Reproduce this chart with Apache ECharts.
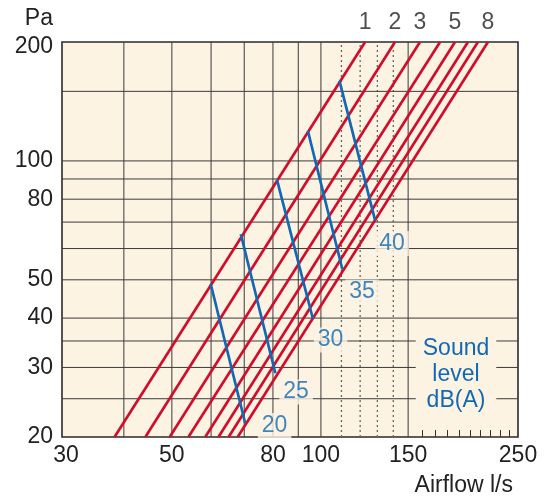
<!DOCTYPE html>
<html><head><meta charset="utf-8">
<script src="https://cdn.jsdelivr.net/npm/echarts@6/dist/echarts.min.js"></script>
<style>html,body{margin:0;padding:0;background:#fff}#c{width:546px;height:499px}</style>
</head><body><div id="c"></div>
<script>
// ---- data ----
const lineIds = [1, 2, 3, 4, 5, 6, 7, 8];
const labeledLines = [1, 2, 3, 5, 8];
const airflowAt20Pa  = [38.3, 44.2, 49.5, 54.0, 58.4, 62.1, 65.1, 67.9];
const airflowAt200Pa = [122.8, 141.1, 158.5, 174.0, 186.5, 198.1, 207.5, 217.4];

const soundLevels = [20, 25, 30, 35, 40];
const soundStartAirflow  = [59.9, 68.9, 81.5, 94.1, 109.0];
const soundStartPressure = [48.8, 65.2, 89.7, 119.1, 159.4];
const soundEndAirflow    = [70.3, 80.9, 96.3, 110.5, 128.6];
const soundEndPressure   = [21.7, 29.0, 39.9, 53.1, 70.8];
const soundLabelAirflow  = [80.6, 89.1, 104.6, 121.1, 139.2];
const soundLabelPressure = [21.4, 26.0, 35.2, 46.6, 61.8];

const xTickLabels = [30, 50, 80, 100, 150, 250];
const yTickLabels = [20, 30, 40, 50, 80, 100, 200];
const xGridSolid  = [40, 50, 60, 70, 80, 90, 100, 150];
const xGridDotted = [110, 120, 130, 140];
const yGrid       = [25, 30, 35, 40, 50, 60, 70, 80, 90, 100, 150];
const xMinorTicks = [160, 170, 180, 190, 200, 210, 220, 230, 240];
const xRange = [30, 250];
const yRange = [20, 200];

// ---- styles ----
const FONT = 'Liberation Sans, Arial, Helvetica, sans-serif';
const BG = '#fdf3e3';
const RED = '#cf0e2c';
const BLUE = '#1169b3';
const TXT = '#222';
const GRIDC = '#3a3a3a';

const L = Math.log10;
const pt = (q, p) => [L(q), L(p)];

const series = [];
xGridSolid.forEach(v => series.push({
  type: 'line', data: [pt(v, yRange[0]), pt(v, yRange[1])], symbol: 'none', silent: true, z: 1,
  lineStyle: { color: GRIDC, width: 1 }
}));
xGridDotted.forEach(v => series.push({
  type: 'line', data: [pt(v, yRange[0]), pt(v, yRange[1])], symbol: 'none', silent: true, z: 1,
  lineStyle: { color: '#666', width: 1.3, type: [2, 3] }
}));
yGrid.forEach(v => series.push({
  type: 'line', data: [pt(xRange[0], v), pt(xRange[1], v)], symbol: 'none', silent: true, z: 1,
  lineStyle: { color: GRIDC, width: 1 }
}));
lineIds.forEach((id, i) => series.push({
  type: 'line', name: 'line ' + id, data: [pt(airflowAt20Pa[i], 20), pt(airflowAt200Pa[i], 200)],
  symbol: 'none', silent: true, z: 3, lineStyle: { color: RED, width: 2.7 }
}));
soundLevels.forEach((s, i) => series.push({
  type: 'line', name: s + ' dB(A)',
  data: [pt(soundStartAirflow[i], soundStartPressure[i]), pt(soundEndAirflow[i], soundEndPressure[i])],
  symbol: 'none', silent: true, z: 4, lineStyle: { color: BLUE, width: 2.7 }
}));
series.push({
  type: 'scatter', z: 6, silent: true, symbolSize: 1, itemStyle: { color: 'rgba(0,0,0,0)' },
  data: soundLevels.map((s, i) => ({ name: String(s), value: pt(soundLabelAirflow[i], soundLabelPressure[i]) })),
  label: { show: true, position: 'inside', formatter: '{b}', color: BLUE, fontSize: 23, fontFamily: FONT,
           backgroundColor: BG, padding: [1, 4] }
});
series.push({
  type: 'scatter', z: 6, silent: true, clip: false, symbolSize: 1, itemStyle: { color: 'rgba(0,0,0,0)' },
  data: labeledLines.map(id => ({ name: String(id), value: pt(airflowAt200Pa[id - 1], 200) })),
  label: { show: true, position: 'top', distance: 7, formatter: '{b}', color: TXT, fontSize: 23, fontFamily: FONT }
});

const chart = echarts.init(document.getElementById('c'));
chart.setOption({
  animation: false,
  backgroundColor: '#fff',
  grid: { left: 62, right: 28, top: 42, bottom: 62, show: true, backgroundColor: BG,
          borderColor: '#2a2a2a', borderWidth: 1.6, containLabel: false, outerBoundsMode: 'none' },
  xAxis: {
    type: 'value', min: L(xRange[0]), max: L(xRange[1]),
    axisLine: { show: false }, splitLine: { show: false },
    axisTick: { show: true, inside: true, length: 7, customValues: xMinorTicks.map(L),
                lineStyle: { color: '#333', width: 1 } },
    axisLabel: {
      customValues: xTickLabels.map(L), color: TXT, fontSize: 23, fontFamily: FONT, margin: 7,
      formatter: v => { const n = Math.round(Math.pow(10, v)); return n === 30 ? '{s|30}' : String(n); },
      rich: { s: { fontSize: 23, fontFamily: FONT, color: TXT, padding: [0, 0, 0, 8] } }
    }
  },
  yAxis: {
    type: 'value', min: L(yRange[0]), max: L(yRange[1]),
    axisLine: { show: false }, splitLine: { show: false }, axisTick: { show: false },
    axisLabel: {
      customValues: yTickLabels.map(L), color: TXT, fontSize: 23, fontFamily: FONT, margin: 9,
      formatter: v => { const n = Math.round(Math.pow(10, v)); return n === 200 ? '{d|200}' : String(n); },
      rich: { d: { fontSize: 23, fontFamily: FONT, color: TXT, padding: [9, 0, 0, 0] } }
    }
  },
  graphic: [
    { type: 'text', z: 100, x: 53, y: 19,
      style: { text: 'Pa', fontSize: 23, fontFamily: FONT, fill: TXT, align: 'right', verticalAlign: 'middle' } },
    { type: 'text', z: 100, x: 513, y: 486,
      style: { text: 'Airflow l/s', fontSize: 23, fontFamily: FONT, fill: TXT, align: 'right', verticalAlign: 'middle' } },
    { type: 'text', z: 100, x: 456, y: 375,
      style: { text: 'Sound\nlevel\ndB(A)', fontSize: 23, fontFamily: FONT, fill: BLUE, align: 'center',
               verticalAlign: 'middle', lineHeight: 26, backgroundColor: BG, padding: [0, 7] } }
  ],
  series: series
});
</script></body></html>
